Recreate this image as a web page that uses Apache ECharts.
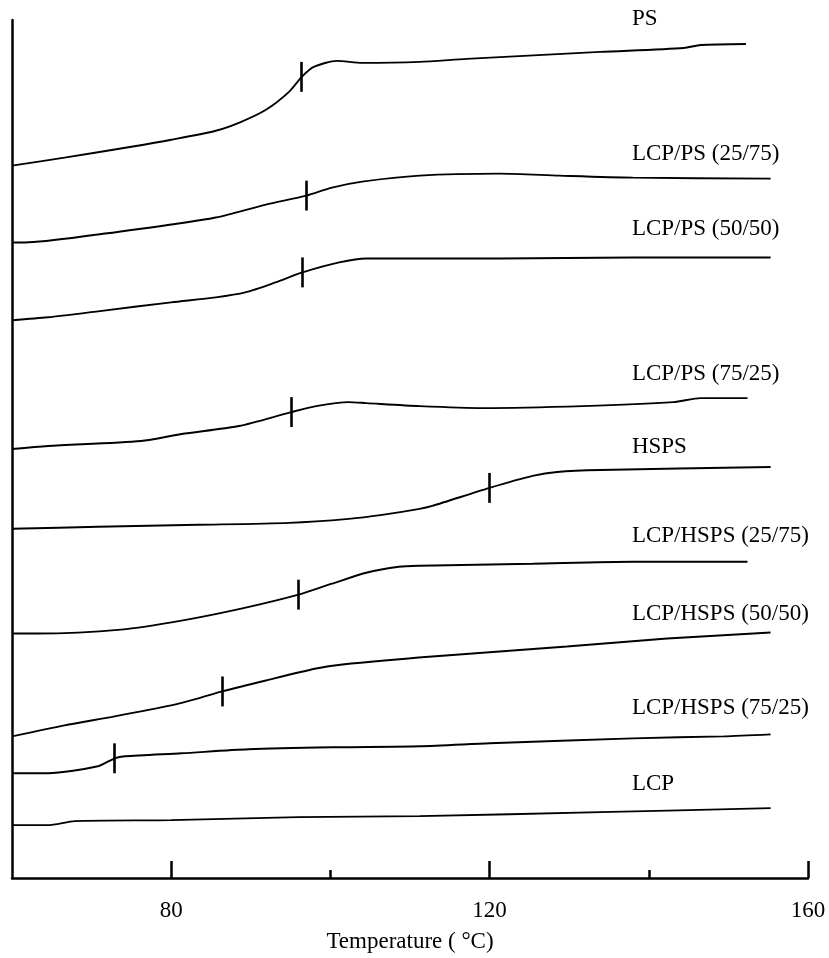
<!DOCTYPE html>
<html>
<head>
<meta charset="utf-8">
<title>DSC curves</title>
<script src="https://cdn.jsdelivr.net/npm/echarts@6/dist/echarts.min.js"></script>
<style>
  html, body { margin: 0; padding: 0; background: #fff; }
  #chart { width: 829px; height: 958px; }
</style>
</head>
<body>
<div id="chart"></div>
<script>
// curve names, top to bottom
const names = ['PS', 'LCP/PS (25/75)', 'LCP/PS (50/50)', 'LCP/PS (75/25)', 'HSPS',
  'LCP/HSPS (25/75)', 'LCP/HSPS (50/50)', 'LCP/HSPS (75/25)', 'LCP'];

// [temperature, heat flow (arb. units, stacked)]
const ps = [[60, 714], [66.6, 722], [75, 733], [80, 740], [85.6, 749], [88.8, 758], [91.9, 770],
  [94.8, 788], [96.4, 803], [97.9, 813], [100.8, 819], [104, 817], [111.2, 818], [117.1, 821],
  [133.9, 828], [144.4, 832], [146.5, 835], [152.2, 836]];
const lps2575 = [[60, 637], [61.6, 637], [70.8, 645], [80, 655], [85.6, 662], [91.9, 675],
  [97, 684], [100.2, 692], [104, 698], [111.2, 704], [121.3, 706], [128.8, 704], [138, 702], [155.3, 701]];
const lps5050 = [[60, 559], [64.5, 562], [70.8, 568], [80, 577], [85.6, 582], [89.3, 587],
  [93.1, 597], [96.5, 607], [101.1, 617], [104.5, 621], [109.9, 621], [121.3, 621], [138, 622], [155.3, 622]];
const lps7525 = [[60, 430], [64.5, 433], [76.2, 438], [81.3, 445], [88.5, 453], [95.1, 467],
  [98.2, 473], [102.3, 477], [104.5, 476], [111.2, 473], [119.1, 471], [131.7, 473], [143.1, 477],
  [146.5, 481], [152.4, 481]];
const hsps = [[60, 350], [70.8, 352], [83.4, 354], [94.8, 356], [102.3, 360], [106.5, 364],
  [111.2, 370], [112.8, 373], [120, 391], [125.4, 403], [128.5, 407], [133.9, 409], [155.3, 412]];
const lhs2575 = [[60, 245], [63.2, 245], [73.7, 249], [81.3, 258], [88.8, 270], [96, 284],
  [100.2, 295], [104.5, 306], [108.6, 312], [111.2, 313], [125.4, 315], [138, 317], [152.4, 317]];
const lhs5050 = [[60, 142], [66.6, 153], [72.9, 162], [80, 173], [83.4, 180], [86.4, 187],
  [91.9, 198], [98.2, 210], [101.5, 214], [112.8, 222], [129.7, 232], [142.3, 240], [155.3, 246]];
const lhs7525 = [[60, 105], [64.5, 105], [70.8, 112], [72.9, 120], [74.2, 122], [81.3, 125],
  [89.7, 129], [100.2, 131], [111.2, 132], [120, 135], [138, 140], [149.4, 142], [155.3, 144]];
const lcp = [[60, 53], [64.5, 53], [67.9, 57], [80, 58], [96, 61], [111.2, 62], [133.9, 66], [155.3, 70]];

const curves = [ps, lps2575, lps5050, lps7525, hsps, lhs2575, lhs5050, lhs7525, lcp];

// glass transition temperatures marked on each curve (null = none)
const tg = [96.4, 97.0, 96.5, 95.1, 120.0, 96.0, 86.4, 72.9, null];

// x axis ticks
const majorTicks = [80, 120, 160];
const minorTicks = [100, 140];

const labelFont = '"Liberation Serif", "Times New Roman", serif';
// how far each name sits above the end of its curve (px)
const labelLift = [25, 25, 28, 24, 20, 26, 19, 26, 24];

function valueAt(data, t) {
  for (let i = 1; i < data.length; i++) {
    if (data[i][0] >= t) {
      const a = data[i - 1], b = data[i];
      return a[1] + (b[1] - a[1]) * (t - a[0]) / (b[0] - a[0]);
    }
  }
  return data[data.length - 1][1];
}

const series = curves.map((data, i) => {
  const last = data[data.length - 1];
  const s = {
    name: names[i],
    type: 'line',
    data: data,
    symbol: 'none',
    smooth: 0.25,
    lineStyle: { color: '#000', width: 1.9 },
    markPoint: {
      symbol: 'circle',
      symbolSize: 0,
      data: [{ coord: [138, last[1]] }],
      label: {
        show: true,
        formatter: names[i],
        position: 'right',
        offset: [-6, -labelLift[i]],
        color: '#000',
        fontFamily: labelFont,
        fontSize: 23
      }
    }
  };
  if (tg[i] != null) {
    const v = valueAt(data, tg[i]);
    s.markLine = {
      symbol: ['none', 'none'],
      silent: true,
      label: { show: false },
      lineStyle: { color: '#000', width: 2.6, type: 'solid' },
      data: [[{ coord: [tg[i], v - 15] }, { coord: [tg[i], v + 15] }]]
    };
  }
  return s;
});

const chart = echarts.init(document.getElementById('chart'));
chart.setOption({
  animation: false,
  grid: { left: 12, right: 21, top: 20, bottom: 78 },
  xAxis: [
    {
      type: 'value',
      min: 60,
      max: 160,
      name: 'Temperature ( °C)',
      nameLocation: 'middle',
      nameGap: 52,
      nameTextStyle: { color: '#000', fontFamily: labelFont, fontSize: 23 },
      axisLine: { lineStyle: { color: '#000', width: 2.5 } },
      axisTick: { inside: true, length: 17, customValues: majorTicks, lineStyle: { color: '#000', width: 2.5 } },
      axisLabel: { customValues: majorTicks, margin: 21, color: '#000', fontFamily: labelFont, fontSize: 23 },
      splitLine: { show: false }
    },
    {
      type: 'value',
      min: 60,
      max: 160,
      position: 'bottom',
      axisLine: { show: false },
      axisTick: { inside: true, length: 8, customValues: minorTicks, lineStyle: { color: '#000', width: 2.5 } },
      axisLabel: { show: false },
      splitLine: { show: false }
    }
  ],
  yAxis: {
    type: 'value',
    min: 0,
    max: 860,
    axisLine: { show: true, lineStyle: { color: '#000', width: 2.5 } },
    axisTick: { show: false },
    axisLabel: { show: false },
    splitLine: { show: false }
  },
  series: series
});
</script>
</body>
</html>
